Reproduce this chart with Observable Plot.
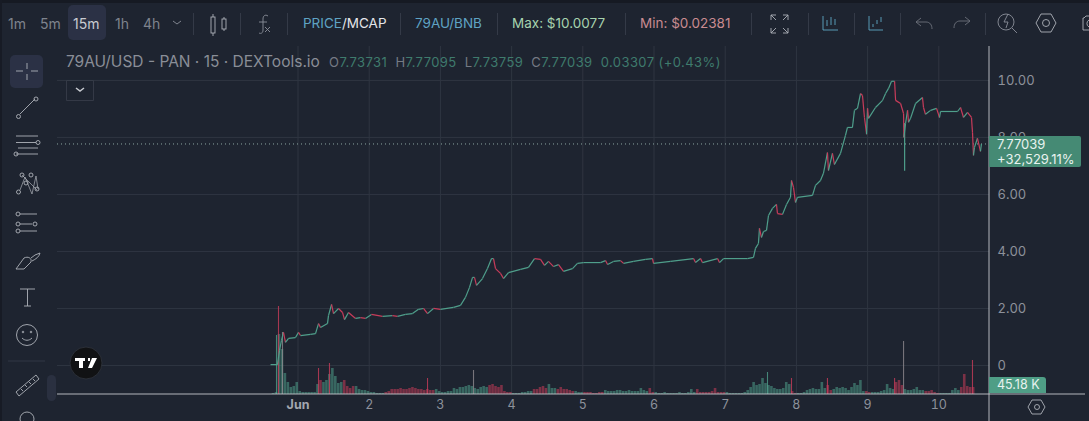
<!DOCTYPE html>
<html>
<head>
<meta charset="utf-8">
<script src="https://cdn.jsdelivr.net/npm/d3@7"></script>
<script src="https://cdn.jsdelivr.net/npm/@observablehq/plot@0.6"></script>
<style>
html,body{margin:0;padding:0;background:#1e2430;width:1089px;height:421px;overflow:hidden;font-family:Inter,"Noto Sans",sans-serif}
#chart{position:absolute;left:0;top:0}
#chart svg{display:block}
.t{position:absolute;white-space:nowrap;line-height:1}
.btn{position:absolute;background:#2b3145;border-radius:5px}
.sep{position:absolute;top:13px;width:1px;height:22px;background:#343a47}
#icons{position:absolute;left:0;top:0;pointer-events:none}
</style>
</head>
<body>
<div id="chart"></div>
<div class="btn" style="left:68px;top:5px;width:38px;height:35px"></div>
<div class="btn" style="left:10px;top:55px;width:33px;height:33px"></div>
<div class="btn" style="left:47px;top:375px;width:9px;height:26px;background:#2a3040"></div>
<div id="seps"></div>
<svg id="icons" width="1089" height="421" fill="none" stroke="#8b909a" stroke-width="0.9">
  <rect x="0" y="0" width="1089" height="3" fill="#161a23" stroke="none"/>
  <rect x="0" y="0" width="2" height="421" fill="#171b25" stroke="none"/>
  <path d="M989 46V421M57 394H1085" stroke="#c5c8cd"/>
  <path d="M173 21l4 3 4-3" />
  <g stroke="#aeb2b9"><path d="M213 14v3M213 33v3M224 17v2M224 29v2"/><rect x="211" y="17" width="4" height="16"/><rect x="222" y="19" width="4" height="10"/></g>
  <path d="M268 16c-3-2-5 0-5 3v11c0 3-2 4-4 3M259 22h8M265 27l5 5M270 27l-5 5"/>
  <path d="M771 15h5M771 15v5M771 15l5 5M788 15h-5M788 15v5M788 15l-5 5M771 33h5M771 33v-5M771 33l5-5M788 33h-5M788 33v-5M788 33l-5-5" stroke="#aeb2b9"/>
  <g stroke="#5fa8c4"><path d="M823 16v14h15M827 20v6M831 17v8M835 19v6"/></g>
  <g stroke="#5fa8c4"><path d="M869 16v14h14M873 24v3M877 20v4M881 17v5"/></g>
  <path d="M917 21h10c4 0 6 3 6 7M917 21l5-4M917 21l5 4" transform="translate(-1 1)" stroke="#6d727c"/>
  <path d="M970 21h-10c-4 0-6 3-6 7M970 21l-5-4M970 21l-5 4" stroke="#6d727c"/>
  <circle cx="1006" cy="22" r="8"/><path d="M1012 28l5 5M1008 14l-4 8h4l-2 6"/>
  <path d="M1036 23l5-9h10l5 9-5 9h-10z" stroke="#aeb2b9"/><circle cx="1046" cy="23" r="3.5" stroke="#aeb2b9"/>
  <path d="M1089 16h-3l-2 2h-1v12h6M1089 20a4 4 0 0 0 0 7" stroke="#aeb2b9"/>
  <path d="M66.500 80.500h27v20h-27z" stroke="#373c48"/><path d="M76 88l4 3 4-3" stroke="#c7cad0" stroke-width="1.5"/>
  <path d="M27 63v6M27 74v6M16 71h7M31 71h7" stroke="#aeb2b9"/>
  <g stroke="#aeb2b9">
    <path d="M20 114l15-15"/><circle cx="18.5" cy="116.500" r="2"/><circle cx="36" cy="99" r="2"/>
    <path d="M16 136h22M16 142.500h20M18 148h20M16 154h22"/><circle cx="38" cy="142.500" r="2"/><circle cx="16" cy="154" r="2"/>
    <path d="M20 190l5-13 7 17 4-18 2 13M22 175l15 15" stroke-width="0.7"/><circle cx="18.500" cy="192" r="2"/><circle cx="22" cy="175" r="2"/><circle cx="31" cy="175" r="2"/><circle cx="37" cy="189" r="2"/><circle cx="26" cy="183" r="2"/>
    <path d="M20 214h17M20 224h12M20 231h17" /><circle cx="18" cy="214" r="2"/><circle cx="18" cy="224" r="2"/><circle cx="18" cy="231" r="2"/><circle cx="35" cy="224" r="2"/>
    <path d="M16 269l8-11c4-2 8 0 7 4l-7 7zM31 258l4-3 5-2c-1 4-4 6-8 8"/>
    <path d="M20 289h15M27.500 289v17M24 306h7"/>
    <circle cx="27" cy="335" r="10.500"/><circle cx="23" cy="332" r="0.800"/><circle cx="31" cy="332" r="0.800"/><path d="M22 338c3 3 7 3 10 0"/>
    <path d="M8 361h37" stroke="#343a47"/>
    <path d="M16 392l20-17 3 4-20 17zM21 389l2 2M25 385l2 2M29 382l2 2M33 379l2 2"/>
    <circle cx="27" cy="419" r="7"/>
    <path d="M1028 407l4-7h9l4 7-4 7h-9z"/><circle cx="1037" cy="407" r="2.500"/>
  </g>
  <circle cx="86" cy="363" r="16" fill="#111214" stroke="#2e323b"/>
  <path d="M75 358h10v3h-2v7h-4v-7h-4zM88 358h2v3h-2zM92 358h5l-5 10h-4z" fill="#fff" stroke="none"/>
</svg>
<div id="labels"></div>
<script>
const priceDays = [0.614,0.712,0.74,0.768,0.796,0.824,0.867,0.965,1.007,1.035,1.176,1.246,1.288,1.316,1.414,1.428,1.471,1.499,1.569,1.625,1.653,1.709,1.808,1.878,1.948,2.032,2.187,2.327,2.397,2.51,2.608,2.692,2.763,2.819,2.903,3.0,3.184,3.282,3.352,3.409,3.451,3.479,3.507,3.591,3.661,3.718,3.746,3.774,3.844,3.886,3.956,4.125,4.237,4.322,4.406,4.462,4.518,4.589,4.659,4.729,4.855,4.925,5.01,5.249,5.319,5.347,5.431,5.53,5.572,5.712,5.881,5.979,5.993,6.232,6.555,6.583,6.653,6.681,6.892,6.92,6.976,7.313,7.397,7.425,7.467,7.481,7.509,7.538,7.58,7.608,7.664,7.72,7.734,7.805,7.861,7.917,7.931,7.959,7.987,8.015,8.226,8.268,8.338,8.38,8.436,8.45,8.506,8.534,8.619,8.689,8.717,8.787,8.815,8.858,8.9,8.928,8.956,8.985,8.999,9.013,9.111,9.21,9.252,9.294,9.336,9.379,9.393,9.463,9.505,9.51,9.533,9.561,9.575,9.603,9.673,9.771,9.785,9.813,9.884,9.968,10.01,10.024,10.263,10.305,10.347,10.403,10.459,10.473,10.487,10.501,10.543,10.585,10.599];
const priceClose = [0.03,0.03,0.53,0.88,1.16,0.81,0.95,0.98,1.16,1.05,1.09,1.12,1.47,1.33,1.47,1.75,2.14,1.82,2.0,1.86,1.61,1.86,1.65,1.68,1.65,1.79,1.72,1.75,1.72,1.79,1.82,1.97,2.0,1.82,2.0,1.97,2.04,2.11,2.39,2.74,3.09,3.09,2.81,3.05,3.40,3.75,3.75,3.40,3.23,3.05,3.26,3.37,3.44,3.75,3.72,3.51,3.65,3.47,3.54,3.30,3.40,3.58,3.61,3.61,3.68,3.54,3.65,3.68,3.58,3.65,3.72,3.75,3.58,3.65,3.75,3.61,3.75,3.61,3.75,3.61,3.75,3.75,3.79,4.11,4.28,4.81,4.49,4.70,4.74,5.26,5.51,5.65,5.33,5.30,5.65,5.90,6.49,6.25,5.72,5.90,5.97,6.32,6.49,6.74,7.47,6.84,7.44,7.05,7.44,8.07,8.35,8.35,8.95,9.02,9.54,9.47,8.70,8.11,9.02,8.67,9.05,9.30,9.54,9.72,9.97,9.97,9.30,9.19,8.84,8.0,8.49,8.95,8.53,8.67,9.19,9.40,9.05,8.81,8.95,9.02,8.70,8.91,8.91,9.05,8.70,8.88,8.70,8.18,7.37,7.65,7.97,7.51,7.77];
const wickDays = [9.52];
const wickLow = [6.81];
const wickHigh = [8.49];
const volumeStartDay = 0.649;
const volumeStepDays = 1 / 24;
const hourlyVolumeK = [5,10,300,225,105,60,35,40,60,15,10,10,10,10,10,50,70,60,70,100,130,90,55,60,70,40,30,40,40,25,20,20,15,10,10,5,5,5,10,15,25,25,25,30,25,25,30,35,30,25,25,20,25,20,20,25,15,10,10,15,15,30,25,35,35,40,45,40,30,25,35,40,35,45,50,40,35,45,15,10,10,5,5,5,10,10,15,15,25,25,35,40,30,50,30,30,25,35,25,25,20,15,15,10,10,10,10,10,5,5,10,10,20,15,15,15,20,20,15,15,20,15,15,15,30,20,15,30,10,10,5,5,10,5,5,5,5,10,5,5,10,25,10,25,10,10,10,10,15,30,10,10,10,10,5,5,5,5,5,10,20,35,60,45,50,80,55,45,40,30,25,25,30,60,50,15,5,5,5,10,20,25,30,25,25,60,30,45,20,25,35,30,35,30,20,35,55,45,70,15,15,10,10,10,10,15,20,50,30,25,60,70,45,25,20,20,25,35,20,20,15,15,20,10,5,5,5,5,5,20,30,20,35,100,40,35,35];
const redVolumeFrom = [1.28,1.62,2.2,3.68,4.3,4.62,5.0,5.9,6.6,7.93,8.42,8.97,9.36,9.8,10.3];
const redVolumeTo = [1.34,1.8,2.9,4.0,4.52,4.88,5.3,6.0,7.0,8.0,8.5,9.06,9.52,10.0,10.65];
const spikeDays = [0.698,0.726,0.782,1.288,1.442,2.819,3.465,7.594,7.931,8.436,9.379,9.505,10.473];
const spikeVolumeK = [295,440,310,130,155,80,120,110,80,80,80,265,170];
const spikeColor = ["up","down","gray","down","down","down","gray","up","down","down","down","gray","down"];
const dayTicks = [2,3,4,5,6,7,8,9,10];
const monthTick = 1;
const priceTicks = [0,2,4,6,8,10];
const lastPrice = 7.77039;
const intervals = ["1m","5m","15m","1h","4h"];

const C = {grid:"#2f3541", up:"#4f9f8b", down:"#c83c5a", gray:"#8f8a8f", axis:"#8d919b"};
const yMin = -1.018, kPerPrice = 142.5;
const volY = v => yMin + v / kPerPrice;

const segments = priceDays.slice(1).map((d,i)=>({x1:priceDays[i],x2:d,y1:priceClose[i],y2:priceClose[i+1],dir:priceClose[i+1]<priceClose[i]?"down":"up"}));
const isRed = x => redVolumeFrom.some((a,i)=>x>=a && x<=redVolumeTo[i]);
const volumeBars = hourlyVolumeK.map((v,i)=>{const x=volumeStartDay+i*volumeStepDays;return {x,v,dir:isRed(x)?"down":"up"};});
const spikeBars = spikeDays.map((x,i)=>({x,v:spikeVolumeK[i],dir:spikeColor[i]}));
const col = d => C[d.dir];

const plot = Plot.plot({
  width:1089,height:421,marginLeft:57,marginRight:100,marginTop:46,marginBottom:27,
  style:{background:"#1e2430",fontFamily:"Inter, sans-serif",overflow:"visible"},
  x:{type:"linear",domain:[-2.378,10.712]},
  y:{type:"linear",domain:[yMin,11.19]},
  marks:[
    Plot.ruleX([monthTick,...dayTicks],{stroke:C.grid,strokeWidth:1}),
    Plot.ruleY(priceTicks,{stroke:C.grid,strokeWidth:1}),
    Plot.ruleX(volumeBars,{x:"x",y1:yMin,y2:d=>volY(d.v),stroke:col,strokeWidth:2.6,strokeOpacity:0.55}),
    Plot.ruleX(spikeBars,{x:"x",y1:yMin,y2:d=>volY(d.v),stroke:col,strokeWidth:1.1,strokeOpacity:0.8}),
    Plot.ruleY([lastPrice],{stroke:"#a9c7bd",strokeWidth:1,strokeDasharray:"1 3",strokeOpacity:0.8}),
    Plot.ruleX(wickDays,{y1:wickLow,y2:wickHigh,stroke:C.up,strokeWidth:1.2}),
    Plot.link(segments,{x1:"x1",x2:"x2",y1:"y1",y2:"y2",stroke:col,strokeWidth:1.2}),
    Plot.axisY({anchor:"right",ticks:priceTicks,tickSize:0,tickPadding:8,fontSize:13,tickFormat:d=>d===0?"0":d.toFixed(2),label:null,fill:C.axis}),
    Plot.axisX({ticks:dayTicks,tickSize:0,tickPadding:6,fontSize:12.5,fill:C.axis,tickFormat:d=>String(d),label:null}),
    Plot.axisX({ticks:[monthTick],tickSize:0,tickPadding:6,fontSize:12.5,fontWeight:"bold",fill:"#a3a7af",tickFormat:()=>"Jun",label:null})
  ]
});
document.getElementById("chart").appendChild(plot);

const labels = document.getElementById("labels");
function T(x,y,size,color,html,extra){const e=document.createElement("div");e.className="t";e.style.cssText=`left:${x}px;top:${y}px;font-size:${size}px;color:${color};${extra||""}`;e.innerHTML=html;labels.appendChild(e);return e;}
[8,40].forEach((x,i)=>T(x,17,14,"#7e838d",intervals[i]));
T(73,17,14,"#c8cbd1",intervals[2]);
[115,143].forEach((x,i)=>T(x,17,14,"#7e838d",intervals[i+3]));
[193,240,287,400,497,625,751,808,854,900,985].forEach(x=>{const s=document.createElement("div");s.className="sep";s.style.left=x+"px";document.getElementById("seps").appendChild(s);});
T(303,17,13.5,"#5fa3c4",'PRICE<span style="color:#e4e6ea">/MCAP</span>');
T(415,17,13.5,"#5fa3c4","79AU/BNB");
T(512,17,13.5,"#a6d3ae","Max: $10.0077");
T(640,17,13.5,"#c98b90","Min: $0.02381");
T(66,54,15.5,"#8a8e97","79AU/USD - PAN · 15 · DEXTools.io");
const g="#3f7b6d",n="#757a84";
T(329,56,13,g,`<span style="color:${n}">O</span>7.73731&nbsp; <span style="color:${n}">H</span>7.77095&nbsp; <span style="color:${n}">L</span>7.73759&nbsp; <span style="color:${n}">C</span>7.77039&nbsp; 0.03307 (+0.43%)`,"letter-spacing:.42px");
const box=document.createElement("div");box.style.cssText="position:absolute;left:989px;top:136px;width:92px;height:31px;background:#458a74;border-radius:0 2px 2px 0";labels.appendChild(box);
T(997,138,13,"#e8f2ef","7.77039");
T(997,153,13,"#e8f2ef","+32,529.11%");
const vb=document.createElement("div");vb.style.cssText="position:absolute;left:989px;top:377px;width:57px;height:16px;background:#4f9e86;border-radius:0 3px 0 0";labels.appendChild(vb);
T(997,379,12.5,"#e8f2ef","45.18 K");
</script>
</body>
</html>
